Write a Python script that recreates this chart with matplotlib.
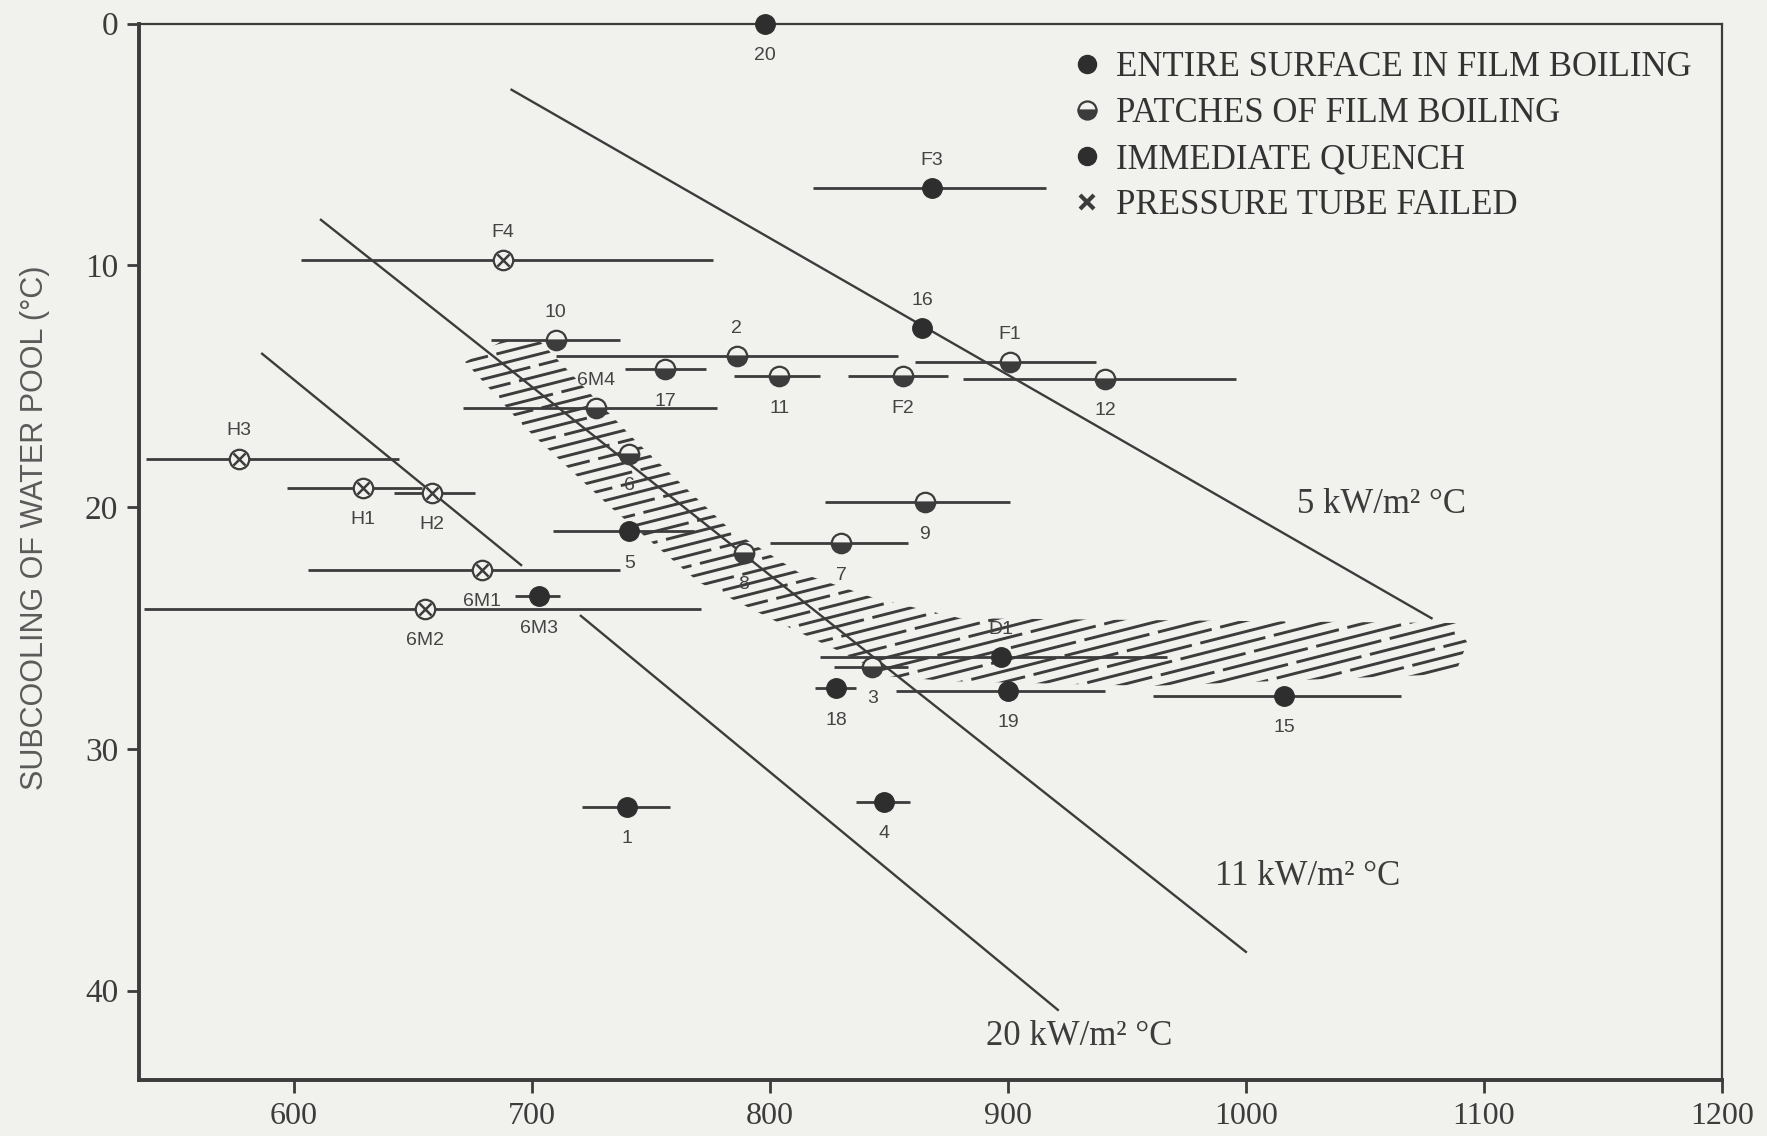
import numpy as np
import matplotlib.pyplot as plt
from matplotlib.lines import Line2D
from matplotlib.patches import Polygon

# Quench tests: pressure tube temperature vs. subcooling of the water pool
# values read off a scanned figure, so they are only approximate

plt.rcParams['font.family'] = ['Liberation Serif', 'DejaVu Serif']

### test points ###
names = ['20', 'F3', 'F4', '10', '2', '17', '11', '16', 'F1', 'F2', '12', '6M4',
         '6', '5', '9', '7', '8', '6M1', '6M3', '6M2', 'H3', 'H1', 'H2', '3',
         'D1', '18', '19', '15', '1', '4']
temp = [798, 868, 688, 710, 786, 756, 804, 864, 901, 856, 941, 727,
        741, 741, 865, 830, 789, 679, 703, 655, 577, 629, 658, 843,
        897, 828, 900, 1016, 740, 848]
subcool = [0.0, 6.8, 9.8, 13.1, 13.75, 14.3, 14.6, 12.6, 14.0, 14.6, 14.7, 15.9,
           17.8, 21.0, 19.8, 21.5, 21.9, 22.6, 23.7, 24.2, 18.0, 19.2, 19.4, 26.6,
           26.2, 27.5, 27.6, 27.8, 32.4, 32.2]
# spread of the temperature (horizontal bars), nan = no bar
t_lo = [np.nan, 818, 603, 683, 710, 739, 785, np.nan, 861, 833, 881, 671,
        np.nan, 709, 823, 800, np.nan, 606, 693, 537, 538, 597, 642, 827,
        821, 819, 853, 961, 721, 836]
t_hi = [np.nan, 916, 776, 737, 854, 773, 821, np.nan, 937, 875, 996, 778,
        np.nan, 768, 901, 858, np.nan, 737, 712, 771, 644, 654, 676, 858,
        967, 836, 941, 1065, 758, 859]
result = ['film', 'film', 'failed', 'patch', 'patch', 'patch', 'patch', 'film',
          'patch', 'patch', 'patch', 'patch', 'patch', 'quench', 'patch', 'patch',
          'patch', 'failed', 'quench', 'failed', 'failed', 'failed', 'failed',
          'patch', 'film', 'quench', 'film', 'film', 'quench', 'quench']
label_above = ['F3', 'F4', '10', '2', '16', 'F1', '6M4', 'H3', 'D1']

### lines of constant heat transfer coefficient ###
htc_names = ['5 kW/m² °C', '11 kW/m² °C', '20 kW/m² °C']
htc_t = [[691.5, 1078.0], [611.4, 1000.0], [586.7, 695.5, np.nan, 720.6, 921.0]]
htc_s = [[2.74, 24.6], [8.12, 38.4], [13.66, 22.4, np.nan, 24.5, 40.8]]

### hatched transition band ###
band_t = [672, 688, 702, 745, 783, 812, 845, 880, 1088, 1093, 1088, 960, 875,
          850, 830, 802, 770, 733, 697]
band_s = [14.0, 13.1, 13.0, 17.4, 20.9, 22.7, 23.8, 24.6, 24.8, 25.6, 26.9, 27.4,
          27.2, 27.0, 26.0, 24.7, 23.1, 20.0, 16.7]

xticks = [600, 700, 800, 900, 1000, 1100, 1200]
yticks = [0, 10, 20, 30, 40]

bg = '#f1f1ee'
ink = '#3c3c3c'

fig = plt.figure(figsize=(17.67, 11.36), dpi=100, facecolor=bg)
ax = fig.add_axes([0.0787, 0.0493, 0.8958, 0.930], facecolor=bg)

# hatched band: tilted strokes clipped to the band outline
band = Polygon(np.column_stack([band_t, band_s]), closed=True,
               facecolor='none', edgecolor='none')
ax.add_patch(band)
xs = np.array([640.0, 1110.0])
for i, c in enumerate(np.arange(13.0, 42.0, 0.45)):
    ys = c - 0.025 * (xs - 640.0)
    ln, = ax.plot(xs, ys, color=ink, lw=2.1, ls=(i * 7 % 29, (30, 3)))
    ln.set_clip_path(band)

# heat transfer coefficient lines
for t, s in zip(htc_t, htc_s):
    ax.plot(t, s, color=ink, lw=1.7)

ax.text(1057, 19.9, htc_names[0], fontsize=25, color=ink, ha='center', va='center')
ax.text(1026, 35.3, htc_names[1], fontsize=25, color=ink, ha='center', va='center')
ax.text(930, 41.9, htc_names[2], fontsize=25, color=ink, ha='center', va='center')

# temperature spread bars
ax.hlines(subcool, t_lo, t_hi, color=ink, lw=2.0)

# markers
ms = 14
for n, t, s, r in zip(names, temp, subcool, result):
    if r == 'patch':
        ax.plot(t, s, 'o', ms=ms, mfc=ink, mec=ink, mew=1.6, fillstyle='bottom',
                markerfacecoloralt=bg, clip_on=False, zorder=5)
    elif r == 'failed':
        ax.plot(t, s, 'o', ms=ms, mfc=bg, mec=ink, mew=1.6, clip_on=False, zorder=5)
        ax.plot(t, s, 'x', ms=ms * 0.6, mec=ink, mew=1.8, clip_on=False, zorder=6)
    else:
        ax.plot(t, s, 'o', ms=ms, mfc='#2e2e2e', mec='#2e2e2e', clip_on=False, zorder=5)
    dy = 20 if n in label_above else -23
    ax.annotate(n, (t, s), xytext=(0, dy), textcoords='offset points',
                ha='center', va='center', fontsize=14, color='#444444',
                family=['Liberation Sans', 'DejaVu Sans'])

# legend
handles = [
    Line2D([], [], ls='none', marker='o', ms=13, mfc='#2e2e2e', mec='#2e2e2e'),
    Line2D([], [], ls='none', marker='o', ms=13, mfc=ink, mec=ink, mew=1.6,
           fillstyle='bottom', markerfacecoloralt=bg),
    Line2D([], [], ls='none', marker='o', ms=13, mfc='#2e2e2e', mec='#2e2e2e'),
    Line2D([], [], ls='none', marker='x', ms=10, mec=ink, mew=3),
]
leg_labels = ['ENTIRE SURFACE IN FILM BOILING', 'PATCHES OF FILM BOILING',
              'IMMEDIATE QUENCH', 'PRESSURE TUBE FAILED']
leg = ax.legend(handles, leg_labels, loc='upper left', bbox_to_anchor=(0.579, 0.99),
                frameon=False, fontsize=25, handlelength=0.8, handletextpad=0.45,
                labelspacing=0.37, borderpad=0)
for txt in leg.get_texts():
    txt.set_color('#333333')

ax.set_xlim(535, 1200)
ax.set_ylim(43.7, 0)
ax.set_xticks(xticks)
ax.set_yticks(yticks)
ax.tick_params(labelsize=24, colors=ink, length=9, width=2, direction='out', pad=6)
ax.tick_params(axis='x', labelsize=23, pad=7)
for side in ['left', 'bottom']:
    ax.spines[side].set_linewidth(2.8)
for side in ['top', 'right']:
    ax.spines[side].set_linewidth(1.6)
for sp in ax.spines.values():
    sp.set_color(ink)

ax.set_ylabel('SUBCOOLING OF WATER POOL (°C)', fontsize=22, color='#5a5a5a',
              family=['Liberation Sans', 'DejaVu Sans'])
ax.yaxis.set_label_coords(-0.056, 0.523)

fig.savefig('out.png', dpi=100, facecolor=bg)
